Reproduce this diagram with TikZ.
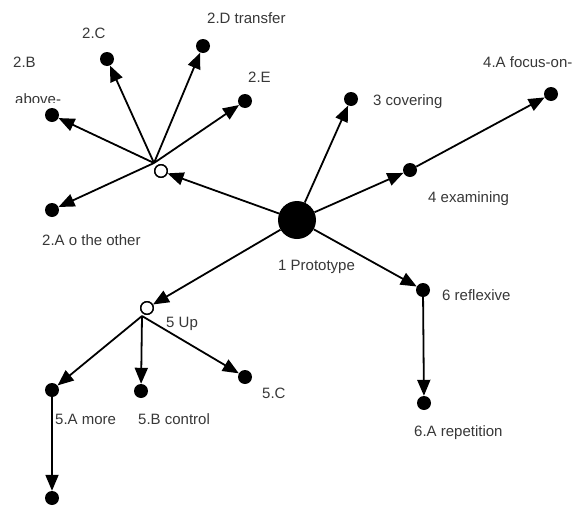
\documentclass[tikz,border=0pt]{standalone}
\usepackage{fontspec}
\setmainfont{Liberation Sans}
\usetikzlibrary{arrows.meta}
\definecolor{txtgray}{RGB}{55,55,55}
\begin{document}
\begin{tikzpicture}[x=1pt,y=-1pt,
  dot/.style={circle,fill=black,inner sep=0pt,minimum size=14pt},
  bigdot/.style={circle,fill=black,inner sep=0pt,minimum size=38pt},
  hub/.style={circle,draw=black,fill=white,line width=1.4pt,inner sep=0pt,minimum size=12.5pt},
  lab/.style={anchor=west,inner sep=0pt,text=txtgray,font=\fontsize{15}{18}\selectfont},
  arr/.style={line width=1.8pt,-{Triangle[length=16pt,width=13pt]}}]
\useasboundingbox (0,0) rectangle (574,509);
% nodes
\node[bigdot] (n1) at (297,220) {};
\node[hub] (n2) at (161,171) {};
\coordinate (h2) at (154,163);
\node[dot] (n2A) at (52,210) {};
\node[dot] (n2B) at (52,115) {};
\node[dot] (n2C) at (107,59) {};
\node[dot] (n2D) at (203,46) {};
\node[dot] (n2E) at (245,101) {};
\node[dot] (n3) at (351,99) {};
\node[dot] (n4) at (410,170) {};
\node[dot] (n4A) at (551,94) {};
\node[hub] (n5) at (147,308) {};
\coordinate (h5) at (142,316);
\node[dot] (n5A) at (52,390) {};
\node[dot] (n5Aa) at (52,498) {};
\node[dot] (n5B) at (141,391) {};
\node[dot] (n5C) at (245,377) {};
\node[dot] (n6) at (423,290) {};
\node[dot] (n6A) at (424,403) {};
% connectors
\draw[arr] (n1) -- (n2);
\draw[arr] (h2) -- (n2A);
\draw[arr] (h2) -- (n2B);
\draw[arr] (h2) -- (n2C);
\draw[arr] (h2) -- (n2D);
\draw[arr] (h2) -- (n2E);
\draw[arr] (n1) -- (n3);
\draw[arr] (n1) -- (n4);
\draw[arr] (n4) -- (n4A);
\draw[arr] (n1) -- (n5);
\draw[arr] (h5) -- (n5A);
\draw[arr] (h5) -- (n5B);
\draw[arr] (h5) -- (n5C);
\draw[arr] (n5A) -- (n5Aa);
\draw[arr] (n1) -- (n6);
\draw[arr] (n6) -- (n6A);
\node[hub] at (n2) {};
\node[hub] at (n5) {};
% labels
\node[lab] (l2B) at (13,62) {2.B};
\node[lab] (l2C) at (82,33) {2.C};
\node[lab] (l2D) at (207,18) {2.D transfer};
\node[lab] (l2E) at (248,77) {2.E};
\begin{scope}
\clip (0,80) rectangle (100,102);
\node[lab] (lab2B) at (15,99) {above-};
\end{scope}
\node[lab] (l2A) at (42,240) {2.A o the other};
\node[lab] (l3) at (373,102) {3 covering};
\node[lab] (l4A) at (483,62) {4.A focus-on-};
\node[lab] (l4) at (428,199) {4 examining};
\node[lab] (l1) at (278,267) {1 Prototype};
\node[lab] (l6) at (442,295) {6 reflexive};
\node[lab] (l5) at (166,324) {5 Up};
\node[lab] (l5A) at (55,419) {5.A more};
\node[lab] (l5B) at (138,419) {5.B control};
\node[lab] (l5C) at (262,393) {5.C};
\node[lab] (l6A) at (414,433) {6.A repetition};
\end{tikzpicture}
\end{document}
